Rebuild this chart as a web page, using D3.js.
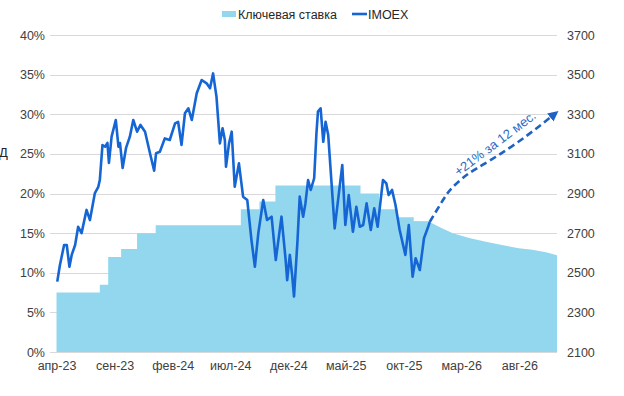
<!DOCTYPE html>
<html lang="ru">
<head>
  <meta charset="UTF-8">
  <title>key-rate-imoex</title>
  <script src="https://cdn.jsdelivr.net/npm/d3@7"></script>
  <style>
    body { margin: 0; background: #fff; }
    svg text { font-family: "Liberation Sans", Arial, sans-serif; }
  </style>
</head>
<body>
<script>
// key rate, % (steps up to forecastStart, then a smooth forecast path)
let rateDates = [
  '2023-04-01', '2023-07-24', '2023-08-15', '2023-09-18', '2023-10-30', '2023-12-18',
  '2024-07-29', '2024-09-16', '2024-10-28', '2025-06-09', '2025-07-28', '2025-09-15',
  '2025-10-27', '2025-12-08', '2026-01-05', '2026-02-07', '2026-03-22', '2026-05-05',
  '2026-06-16', '2026-07-31', '2026-09-04', '2026-10-10', '2026-11-08'
];
let rateValues = [
  7.5, 8.5, 12, 13, 15, 16,
  18, 19, 21, 20, 18, 17,
  16.5, 16.4, 15.7, 15.0, 14.4, 13.9,
  13.5, 13.1, 12.9, 12.6, 12.2
];
let forecastStart = '2025-12-08';

// IMOEX, points
let imoexDates = [
  '2023-04-03', '2023-04-10', '2023-04-21', '2023-04-28', '2023-05-05', '2023-05-11',
  '2023-05-20', '2023-05-28', '2023-06-06', '2023-06-19', '2023-06-28', '2023-07-11',
  '2023-07-20', '2023-07-24', '2023-07-31', '2023-08-07', '2023-08-13', '2023-08-17',
  '2023-08-24', '2023-09-04', '2023-09-11', '2023-09-15', '2023-09-22', '2023-10-01',
  '2023-10-11', '2023-10-20', '2023-10-30', '2023-11-08', '2023-11-20', '2023-12-03',
  '2023-12-14', '2023-12-19', '2023-12-29', '2024-01-11', '2024-01-24', '2024-02-07',
  '2024-02-15', '2024-02-24', '2024-03-04', '2024-03-13', '2024-03-22', '2024-04-04',
  '2024-04-17', '2024-04-30', '2024-05-09', '2024-05-17', '2024-05-26', '2024-06-04',
  '2024-06-11', '2024-06-17', '2024-06-20', '2024-06-28', '2024-07-05', '2024-07-13',
  '2024-07-24', '2024-08-04', '2024-08-15', '2024-08-26', '2024-09-04', '2024-09-13',
  '2024-09-26', '2024-10-06', '2024-10-18', '2024-10-29', '2024-11-13', '2024-11-24',
  '2024-11-28', '2024-12-05', '2024-12-11', '2024-12-16', '2024-12-25', '2024-12-31',
  '2025-01-09', '2025-01-15', '2025-01-22', '2025-01-29', '2025-02-07', '2025-02-13',
  '2025-02-17', '2025-02-24', '2025-03-03', '2025-03-09', '2025-03-16', '2025-04-02',
  '2025-04-22', '2025-04-30', '2025-05-09', '2025-05-20', '2025-05-29', '2025-06-07',
  '2025-06-16', '2025-06-25', '2025-07-06', '2025-07-15', '2025-07-24', '2025-08-07',
  '2025-08-16', '2025-08-22', '2025-08-31', '2025-09-09', '2025-09-20', '2025-10-05',
  '2025-10-14', '2025-10-24', '2025-11-01', '2025-11-12', '2025-11-23', '2025-12-04',
  '2025-12-08'
];
let imoexValues = [
  2455, 2539, 2640, 2640, 2530, 2590,
  2640, 2732, 2700, 2817, 2766, 2902,
  2934, 2968, 3145, 3136, 3155, 3054,
  3187, 3271, 3136, 3155, 3029, 3130,
  3187, 3271, 3212, 3246, 3212, 3103,
  3015, 3103, 3111, 3178, 3170, 3254,
  3262, 3145, 3305, 3330, 3271, 3406,
  3473, 3456, 3431, 3506, 3388, 3153,
  3229, 3170, 3035, 3153, 3212, 2934,
  3052, 2884, 2867, 2665, 2530, 2699,
  2867, 2766, 2783, 2564, 2783, 2564,
  2463, 2590, 2489, 2380, 2657, 2884,
  2783, 2850, 2968, 2918, 2977, 3204,
  3313, 3330, 3161, 3262, 3195, 2724,
  3044, 2741, 2892, 2707, 2833, 2732,
  2741, 2850, 2716, 2825, 2732, 2968,
  2951, 2892, 2918, 2842, 2716, 2590,
  2741, 2480, 2573, 2514, 2674, 2732,
  2756
];

// forecast arrow, +21% over 12 months
let forecastDates = ['2025-12-08', '2026-01-12', '2026-02-07', '2026-03-15', '2026-04-26', '2026-07-25', '2026-11-01'];
let forecastValues = [2756, 2867, 2933, 2993, 3044, 3155, 3300];

let rateTicks = [0, 5, 10, 15, 20, 25, 30, 35, 40];
let indexTicks = [2100, 2300, 2500, 2700, 2900, 3100, 3300, 3500, 3700];
let monthTicks = ['2023-04-01', '2023-09-01', '2024-02-01', '2024-07-01', '2024-12-01',
  '2025-05-01', '2025-10-01', '2026-03-01', '2026-08-01'];
let monthLabels = ['апр-23', 'сен-23', 'фев-24', 'июл-24', 'дек-24', 'май-25', 'окт-25', 'мар-26', 'авг-26'];

let parse = d3.timeParse('%Y-%m-%d');
let _width = 624;
let _height = 396;
let areaColor = '#93d7ee';
let lineColor = '#1566d4';
let arrowColor = '#1f62c4';
let textColor = '#404040';

let rateData = rateDates.map(function (d, i) { return {date: parse(d), value: rateValues[i]}; });
let imoexData = imoexDates.map(function (d, i) { return {date: parse(d), value: imoexValues[i]}; });
let forecastData = forecastDates.map(function (d, i) { return {date: parse(d), value: forecastValues[i]}; });
let splitIndex = rateDates.indexOf(forecastStart);

let x = d3.scaleTime()
  .domain([parse('2023-04-01'), parse('2026-11-08')])
  .range([56.5, 557]);
let yRate = d3.scaleLinear().domain([0, 40]).range([352, 35]);
let yIndex = d3.scaleLinear().domain([2100, 3700]).range([352, 35]);

let svg = d3.select('body')
  .append('svg')
  .attr('width', _width)
  .attr('height', _height);

svg.append('defs')
  .append('marker')
  .attr('id', 'arrow')
  .attr('viewBox', '0 0 10 10')
  .attr('refX', 5)
  .attr('refY', 5)
  .attr('markerWidth', 4)
  .attr('markerHeight', 4)
  .attr('orient', 'auto')
  .append('path')
  .attr('d', 'M0,0L10,5L0,10z')
  .attr('fill', arrowColor);

// grid
svg.append('g')
  .selectAll('line')
  .data(rateTicks)
  .enter()
  .append('line')
  .attr('x1', 50)
  .attr('x2', 557)
  .attr('y1', function (d) { return Math.round(yRate(d)) + 0.5; })
  .attr('y2', function (d) { return Math.round(yRate(d)) + 0.5; })
  .attr('stroke', '#d9d9d9')
  .attr('stroke-width', 1);

// key rate area: history as steps, forecast as a smooth slope
function rateArea(curve) {
  return d3.area()
    .curve(curve)
    .x(function (d) { return x(d.date); })
    .y0(yRate(0))
    .y1(function (d) { return yRate(d.value); });
}
svg.append('path')
  .datum(rateData.slice(0, splitIndex + 1))
  .attr('fill', areaColor)
  .attr('d', rateArea(d3.curveStepAfter));
// starts one point earlier so it overlaps the step area and leaves no seam
svg.append('path')
  .datum(rateData.slice(splitIndex - 1))
  .attr('fill', areaColor)
  .attr('d', rateArea(d3.curveLinear));

// left axis
let leftAxis = d3.axisLeft(yRate)
  .tickValues(rateTicks)
  .tickFormat(function (d) { return d + '%'; })
  .tickSize(0)
  .tickPadding(0);
svg.append('g')
  .attr('transform', 'translate(45,0)')
  .call(leftAxis)
  .call(function (g) { g.select('.domain').remove(); })
  .selectAll('text')
  .attr('font-size', 12.5)
  .attr('fill', textColor);

// right axis
let rightAxis = d3.axisRight(yIndex)
  .tickValues(indexTicks)
  .tickFormat(d3.format('d'))
  .tickSize(0)
  .tickPadding(0);
svg.append('g')
  .attr('transform', 'translate(567,0)')
  .call(rightAxis)
  .call(function (g) { g.select('.domain').remove(); })
  .selectAll('text')
  .attr('font-size', 12.5)
  .attr('fill', textColor);

// x axis
let bottomAxis = d3.axisBottom(x)
  .tickValues(monthTicks.map(parse))
  .tickFormat(function (d, i) { return monthLabels[i]; })
  .tickSize(0)
  .tickPadding(0);
svg.append('g')
  .attr('transform', 'translate(0,361)')
  .call(bottomAxis)
  .call(function (g) { g.select('.domain').remove(); })
  .selectAll('text')
  .attr('font-size', 12.5)
  .attr('fill', textColor);

// IMOEX line
svg.append('path')
  .datum(imoexData)
  .attr('fill', 'none')
  .attr('stroke', lineColor)
  .attr('stroke-width', 2.6)
  .attr('stroke-linejoin', 'round')
  .attr('d', d3.line()
    .x(function (d) { return x(d.date); })
    .y(function (d) { return yIndex(d.value); }));

// forecast arrow
svg.append('path')
  .datum(forecastData)
  .attr('fill', 'none')
  .attr('stroke', arrowColor)
  .attr('stroke-width', 2.6)
  .attr('stroke-dasharray', '7,4')
  .attr('marker-end', 'url(#arrow)')
  .attr('d', d3.line()
    .curve(d3.curveNatural)
    .x(function (d) { return x(d.date); })
    .y(function (d) { return yIndex(d.value); }));

let labelX = x(parse('2026-06-05'));
let labelY = yIndex(3135);
svg.append('text')
  .attr('transform', 'translate(' + labelX + ',' + labelY + ') rotate(-37)')
  .attr('text-anchor', 'middle')
  .attr('font-size', 13)
  .attr('fill', '#2f6cc4')
  .text('+21% за 12 мес.');

// legend
let legend = svg.append('g').attr('class', 'legend');
legend.append('rect')
  .attr('x', 222)
  .attr('y', 11)
  .attr('width', 14)
  .attr('height', 6)
  .attr('fill', areaColor);
legend.append('text')
  .attr('x', 238)
  .attr('y', 18.5)
  .attr('font-size', 12.5)
  .attr('fill', '#262626')
  .text('Ключевая ставка');
legend.append('line')
  .attr('x1', 352)
  .attr('x2', 367)
  .attr('y1', 14)
  .attr('y2', 14)
  .attr('stroke', lineColor)
  .attr('stroke-width', 2.6);
legend.append('text')
  .attr('x', 368)
  .attr('y', 18.5)
  .attr('font-size', 12.5)
  .attr('fill', '#262626')
  .text('IMOEX');

// cut-off side label
svg.append('text')
  .attr('x', -1)
  .attr('y', 157)
  .attr('font-size', 13)
  .attr('fill', '#222')
  .text('Д');
</script>
</body>
</html>
